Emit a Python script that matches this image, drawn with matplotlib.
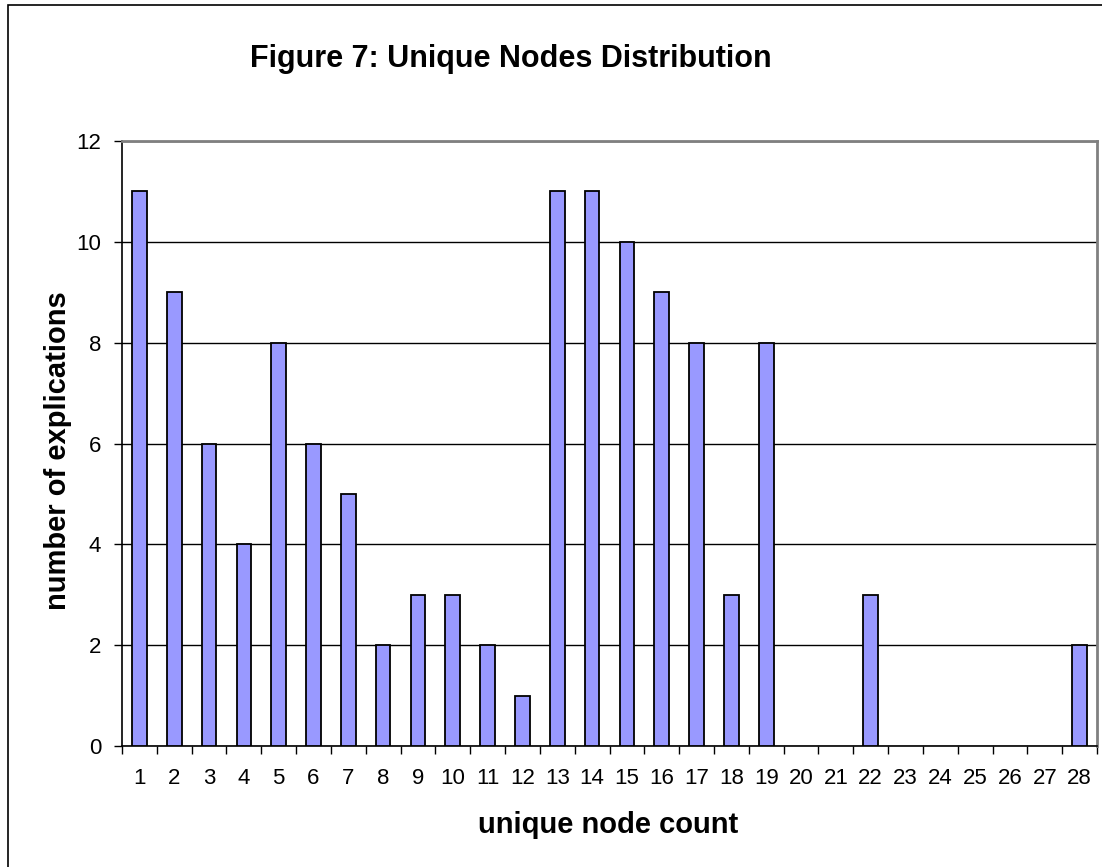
import numpy as np
import matplotlib.pyplot as plt
from matplotlib.patches import Rectangle

# Dados
categorias = [str(i) for i in range(1, 29)]
valores = [11, 9, 6, 4, 8, 6, 5, 2, 3, 3, 2, 1, 11, 11, 10, 9, 8, 3, 8,
           0, 0, 3, 0, 0, 0, 0, 0, 2]
yticks = [0, 2, 4, 6, 8, 10, 12]

plt.rcParams['font.family'] = ['Liberation Sans', 'DejaVu Sans']

fig = plt.figure(figsize=(11.02, 8.67), dpi=100)
W, H = 1102, 867

# moldura do gráfico (estilo Excel)
fig.patches.append(Rectangle((8 / W, -0.05), 1.1, 1 - 5 / H + 0.05,
                             transform=fig.transFigure, fill=False,
                             edgecolor='black', linewidth=1.2))

ax = fig.add_axes([122 / W, 1 - 746 / H, (1097 - 122) / W, (746 - 141) / H])
x = np.arange(len(categorias))
espessuras = [1.3 if v > 0 else 0 for v in valores]   # barras vazias não aparecem
ax.bar(x, valores, width=0.42, color='#9999FF', edgecolor='black',
       linewidth=espessuras, zorder=3)

ax.set_xlim(-0.5, len(categorias) - 0.5)
ax.set_ylim(0, 12)
ax.set_yticks(yticks)
ax.yaxis.grid(True, color='black', linewidth=1, zorder=0)
ax.set_xticks(x)
ax.set_xticklabels(categorias)
ax.set_xticks(np.arange(-0.5, len(categorias)), minor=True)
ax.tick_params(axis='x', which='major', length=0, pad=16, labelsize=16)
ax.tick_params(axis='x', which='minor', length=6, width=1, direction='out')
ax.tick_params(axis='y', length=6, width=1, direction='out', labelsize=16, pad=9)

ax.spines['top'].set_color('#808080')
ax.spines['right'].set_color('#808080')
ax.spines['top'].set_linewidth(2)
ax.spines['right'].set_linewidth(2)
ax.spines['left'].set_linewidth(1.2)
ax.spines['bottom'].set_linewidth(1.2)

fig.text(511 / W, 1 - 67 / H, 'Figure 7: Unique Nodes Distribution',
         ha='center', va='baseline', fontsize=22, fontweight='bold')
fig.text(608 / W, 1 - 833 / H, 'unique node count', ha='center', va='baseline',
         fontsize=21, fontweight='bold')
fig.text(58 / W, 1 - 451 / H, 'number of explications', ha='center',
         va='center', rotation=90, fontsize=21, fontweight='bold')

plt.savefig('out.png', dpi=100)
